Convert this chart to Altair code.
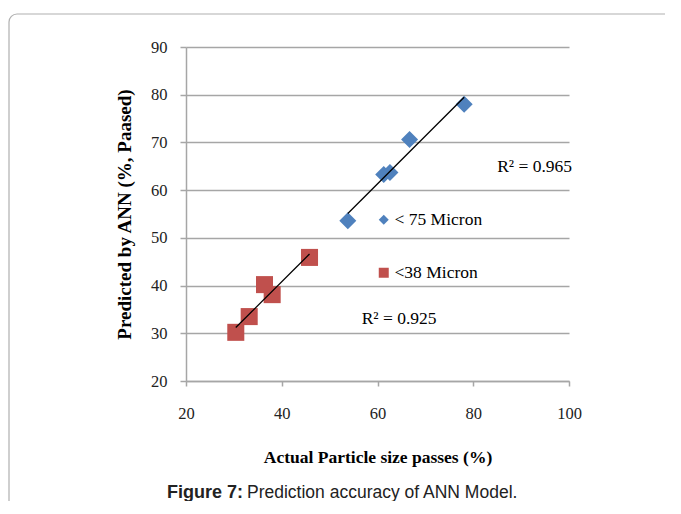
import altair as alt
import pandas as pd

# ---- data ----
series_names = ["< 75 Micron", "<38 Micron"]
blue_x = [53.8, 61.3, 62.6, 66.7, 78.1]
blue_y = [53.6, 63.3, 63.7, 70.6, 78.0]
red_x = [30.4, 33.2, 36.4, 38.0, 45.8]
red_y = [30.2, 33.5, 40.2, 38.1, 45.9]
x_ticks = [20, 40, 60, 80, 100]
y_ticks = [20, 30, 40, 50, 60, 70, 80, 90]
r2_labels = ["R² = 0.965", "R² = 0.925"]
r2_x = [85.0, 56.7]
r2_y = [64.8, 33.0]
caption_bold = "Figure 7:"
caption_rest = "Prediction accuracy of ANN Model."

df = pd.DataFrame({
    "x": blue_x + red_x,
    "y": blue_y + red_y,
    "series": [series_names[0]] * len(blue_x) + [series_names[1]] * len(red_x),
})
r2_df = pd.DataFrame({"label": r2_labels, "x": r2_x, "y": r2_y})

SERIF = "Liberation Serif"
SANS = "Liberation Sans"
GRID = "#A6A6A6"

xs = alt.Scale(domain=[20, 100], nice=False, zero=False)
ys = alt.Scale(domain=[20, 90], nice=False, zero=False)

x_enc = alt.X("x:Q", scale=xs, axis=alt.Axis(
    values=x_ticks, grid=False, title="Actual Particle size passes (%)",
    titleFont=SERIF, titleFontSize=17.5, titleFontWeight="bold", titleColor="#000",
    titleY=67, titleBaseline="top",
    labelFont=SERIF, labelFontSize=16.5, labelColor="#222", labelPadding=19,
    labelFlush=False, labelOverlap=False,
    tickSize=5, tickColor=GRID, tickWidth=1.5, domainColor=GRID, domainWidth=1.5,
))
y_enc = alt.Y("y:Q", scale=ys, axis=alt.Axis(
    values=y_ticks, grid=True, gridColor=GRID, gridWidth=1.5,
    title="Predicted by ANN (%, Paased)",
    titleFont=SERIF, titleFontSize=19, titleFontWeight="bold", titleColor="#000",
    titleX=-52, titleY=167, titleAngle=-90, titleBaseline="bottom", titleAlign="center",
    labelFont=SERIF, labelFontSize=16.5, labelColor="#222", labelPadding=13,
    labelFlush=False, labelOverlap=False,
    tickSize=6, tickColor=GRID, tickWidth=1.5, domainColor=GRID, domainWidth=1.5,
))

legend = alt.Legend(title=None, orient="none", legendX=189, legendY=164,
                    labelFont=SERIF, labelFontSize=17.5, labelColor="#000",
                    symbolSize=100, rowPadding=34, labelOffset=2,
                    symbolStrokeWidth=0)

points = alt.Chart(df).mark_point(filled=True, opacity=1, size=290).encode(
    x=x_enc,
    y=y_enc,
    color=alt.Color("series:N", scale=alt.Scale(domain=series_names, range=["#4F81BD", "#C0504D"]),
                    legend=legend),
    shape=alt.Shape("series:N", scale=alt.Scale(domain=series_names, range=["diamond", "square"]),
                    legend=legend),
)

trend = alt.Chart(df).transform_regression("x", "y", groupby=["series"]).mark_line(
    color="black", strokeWidth=1.3
).encode(x=alt.X("x:Q", scale=xs), y=alt.Y("y:Q", scale=ys), detail="series:N")

r2_text = alt.Chart(r2_df).mark_text(
    align="left", baseline="middle", font=SERIF, fontSize=17.5, color="#000"
).encode(x=alt.X("x:Q", scale=xs), y=alt.Y("y:Q", scale=ys), text="label:N")

cap1 = alt.Chart(pd.DataFrame({"t": [caption_bold]})).mark_text(
    align="right", baseline="middle", font=SANS, fontSize=18, fontWeight="bold", color="#222"
).encode(x=alt.value(57), y=alt.value(446), text="t:N")
cap2 = alt.Chart(pd.DataFrame({"t": [caption_rest]})).mark_text(
    align="left", baseline="middle", font=SANS, fontSize=17.5, color="#222"
).encode(x=alt.value(61), y=alt.value(446), text="t:N")

frame = alt.Chart(pd.DataFrame({"a": [0]})).mark_rect(
    fill=None, stroke="#B0B0B0", strokeWidth=1.2, cornerRadius=8
).encode(x=alt.value(-177), x2=alt.value(520), y=alt.value(-33), y2=alt.value(520))

chart = alt.layer(frame, points, trend, r2_text, cap1, cap2).properties(
    width=383, height=334,
    autosize=alt.AutoSizeParams(type="none"),
    padding={"left": 178, "top": 39, "right": 96, "bottom": 120},
).configure_view(stroke=None).resolve_scale(x="shared", y="shared")

chart.save("out.html", embed_options={"renderer": "svg", "actions": False})
